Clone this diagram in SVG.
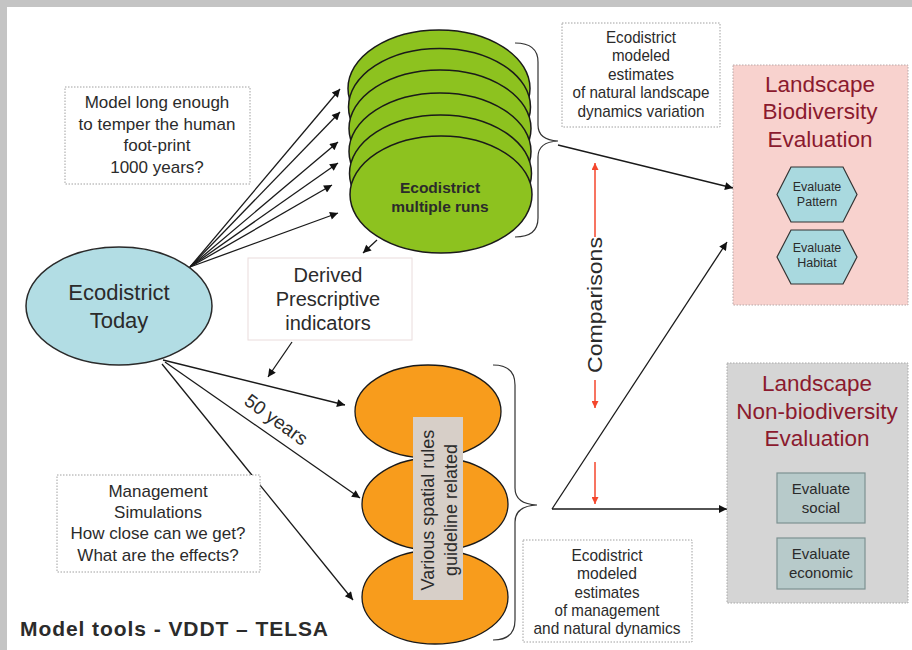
<svg xmlns="http://www.w3.org/2000/svg" width="912" height="650" viewBox="0 0 912 650">
  <style>
    text { font-family: "Liberation Sans", Arial, sans-serif; fill: #2b2b2b; }
    .note { fill: #ffffff; stroke: #a0a0a0; stroke-width: 1; stroke-dasharray: 1.5 1.5; }
    .mid { text-anchor: middle; }
    .title { font-size: 22.5px; fill: #8b1a2e; text-anchor: middle; }
    .green { fill: #8dc21f; stroke: #1a1a1a; stroke-width: 1.5; }
    .orange { fill: #f89c1c; stroke: #1a1a1a; stroke-width: 1.3; }
    .hex { fill: #a9d9df; stroke: #333333; stroke-width: 1.2; }
    .grey-item { fill: #b7caca; stroke: #7d9292; stroke-width: 1.2; }
    .conn { stroke: #1a1a1a; stroke-width: 1.3; fill: none; }
    .red { stroke: #f4462c; stroke-width: 1.5; fill: none; }
    .brace { stroke: #333333; stroke-width: 1.2; fill: none; }
  </style>
  <defs>
    <marker id="ah" viewBox="0 0 10 10" refX="10" refY="5" markerWidth="11" markerHeight="8" markerUnits="userSpaceOnUse" orient="auto">
      <path d="M0,0 L10,5 L0,10 z" fill="#111111"/>
    </marker>
    <marker id="ahr" viewBox="0 0 10 10" refX="10" refY="5" markerWidth="10" markerHeight="7" markerUnits="userSpaceOnUse" orient="auto">
      <path d="M0,0 L10,5 L0,10 z" fill="#f4462c"/>
    </marker>
  </defs>

  <!-- page frame -->
  <rect x="0" y="0" width="912" height="650" fill="#c4c4c4"/>
  <rect x="7" y="7" width="905" height="643" fill="#ffffff"/>

  <!-- connectors -->
  <g id="connectors">
    <!-- fan from Ecodistrict Today to the multiple runs -->
    <line class="conn" x1="190" y1="267" x2="340" y2="89" marker-end="url(#ah)"/>
    <line class="conn" x1="190" y1="267" x2="340" y2="112" marker-end="url(#ah)"/>
    <line class="conn" x1="190" y1="267" x2="338" y2="142" marker-end="url(#ah)"/>
    <line class="conn" x1="190" y1="267" x2="338" y2="163" marker-end="url(#ah)"/>
    <line class="conn" x1="190" y1="267" x2="332" y2="185" marker-end="url(#ah)"/>
    <line class="conn" x1="190" y1="267" x2="338" y2="213" marker-end="url(#ah)"/>
    <!-- runs to derived indicators -->
    <line class="conn" x1="377" y1="240" x2="363" y2="253" marker-end="url(#ah)"/>
    <!-- derived indicators to management runs -->
    <line class="conn" x1="292" y1="342" x2="268" y2="377" marker-end="url(#ah)"/>
    <!-- fan from Ecodistrict Today to the management runs -->
    <line class="conn" x1="163" y1="360" x2="345" y2="405" marker-end="url(#ah)"/>
    <line class="conn" x1="165" y1="362" x2="360" y2="498" marker-end="url(#ah)"/>
    <line class="conn" x1="162" y1="364" x2="353" y2="600" marker-end="url(#ah)"/>
    <!-- braces -->
    <path class="brace" d="M515,43 Q538,43 538,62 L538,125 Q538,140 558,141 Q538,142 538,157 L538,218 Q538,237 515,237"/>
    <path class="brace" d="M493,365 Q515,365 515,385 L515,488 Q515,504 537,505 Q515,506 515,522 L515,620 Q515,640 493,640"/>
    <!-- outputs to the evaluations -->
    <line class="conn" x1="558" y1="145" x2="733" y2="188" marker-end="url(#ah)"/>
    <line class="conn" x1="552" y1="509" x2="727" y2="242" marker-end="url(#ah)"/>
    <line class="conn" x1="552" y1="509" x2="727" y2="509" marker-end="url(#ah)"/>
    <!-- comparisons -->
    <line class="red" x1="595" y1="237" x2="595" y2="163" marker-end="url(#ahr)"/>
    <line class="red" x1="595" y1="380" x2="595" y2="408" marker-end="url(#ahr)"/>
    <line class="red" x1="595" y1="462" x2="595" y2="504" marker-end="url(#ahr)"/>
  </g>

  <!-- Ecodistrict Today -->
  <g id="today">
    <ellipse cx="119" cy="306" rx="93" ry="59" fill="#b2dde4" stroke="#2a2a2a" stroke-width="1.5"/>
    <text class="mid" x="119" y="300" font-size="22">Ecodistrict</text>
    <text class="mid" x="119" y="328" font-size="22">Today</text>
  </g>

  <!-- note: long model horizon -->
  <g id="note-horizon">
    <rect class="note" x="65" y="87" width="185" height="97"/>
    <text class="mid" x="157" y="108" font-size="17">Model long enough</text>
    <text class="mid" x="157" y="130" font-size="17">to temper the human</text>
    <text class="mid" x="157" y="151" font-size="17">foot-print</text>
    <text class="mid" x="157" y="173" font-size="17">1000 years?</text>
  </g>

  <!-- stack of multiple runs -->
  <g id="multiple-runs">
    <ellipse class="green" cx="439" cy="88.5" rx="91" ry="58.5"/>
    <ellipse class="green" cx="439.5" cy="107" rx="91" ry="58.5"/>
    <ellipse class="green" cx="440" cy="128.5" rx="91" ry="58.5"/>
    <ellipse class="green" cx="440" cy="151.5" rx="91" ry="58.5"/>
    <ellipse class="green" cx="440.5" cy="173.5" rx="91" ry="58.5"/>
    <ellipse class="green" cx="441" cy="194.5" rx="91" ry="58.5"/>
    <text class="mid" x="440" y="193" font-size="15.5" font-weight="bold" fill="#1a1a1a">Ecodistrict</text>
    <text class="mid" x="440" y="212" font-size="15.5" font-weight="bold" fill="#1a1a1a">multiple runs</text>
  </g>

  <!-- derived indicators -->
  <g id="derived">
    <rect x="248" y="258" width="164" height="82" fill="#ffffff" stroke="#eadcdc" stroke-width="1"/>
    <text class="mid" x="328" y="282" font-size="20">Derived</text>
    <text class="mid" x="328" y="306" font-size="20">Prescriptive</text>
    <text class="mid" x="328" y="330" font-size="20">indicators</text>
  </g>

  <!-- natural dynamics estimates -->
  <g id="note-natural">
    <rect class="note" x="562" y="23" width="158" height="104"/>
    <text class="mid" x="641" y="43" font-size="17" textLength="70" lengthAdjust="spacingAndGlyphs">Ecodistrict</text>
    <text class="mid" x="641" y="61" font-size="17" textLength="58" lengthAdjust="spacingAndGlyphs">modeled</text>
    <text class="mid" x="641" y="80" font-size="17" textLength="66" lengthAdjust="spacingAndGlyphs">estimates</text>
    <text class="mid" x="641" y="98" font-size="17" textLength="137" lengthAdjust="spacingAndGlyphs">of natural landscape</text>
    <text class="mid" x="641" y="117" font-size="17" textLength="127" lengthAdjust="spacingAndGlyphs">dynamics variation</text>
  </g>

  <!-- biodiversity evaluation -->
  <g id="biodiversity">
    <rect x="733" y="65" width="175" height="240" fill="#f8d2ce" stroke="#b8a8a8" stroke-width="1" stroke-dasharray="1.5 1.5"/>
    <text class="title" x="820" y="92">Landscape</text>
    <text class="title" x="820" y="119">Biodiversity</text>
    <text class="title" x="820" y="147">Evaluation</text>
    <polygon class="hex" points="791,167 843,167 857,194.5 843,222 791,222 777,194.5"/>
    <text class="mid" x="817" y="191" font-size="12.5">Evaluate</text>
    <text class="mid" x="817" y="206" font-size="12.5">Pattern</text>
    <polygon class="hex" points="791,230 843,230 857,257 843,284 791,284 777,257"/>
    <text class="mid" x="817" y="252" font-size="12.5">Evaluate</text>
    <text class="mid" x="817" y="267" font-size="12.5">Habitat</text>
  </g>

  <!-- comparisons label -->
  <g id="comparisons">
    <text class="mid" transform="translate(595,305) rotate(-90)" y="7" font-size="21" textLength="136" lengthAdjust="spacingAndGlyphs">Comparisons</text>
  </g>

  <!-- management runs -->
  <g id="management-runs">
    <ellipse class="orange" cx="428" cy="411.5" rx="73" ry="46.5"/>
    <ellipse class="orange" cx="435" cy="504" rx="73" ry="46.5"/>
    <ellipse class="orange" cx="435" cy="597" rx="73" ry="47"/>
    <rect x="413" y="417" width="50" height="183" fill="#d7cfc8"/>
    <g transform="translate(439,510) rotate(-90)">
      <text class="mid" x="0" y="-5" font-size="18">Various spatial rules</text>
      <text class="mid" x="0" y="18" font-size="18">guideline related</text>
    </g>
  </g>

  <!-- 50 years label -->
  <g id="label-50">
    <text class="mid" transform="translate(276,420) rotate(36)" y="6" font-size="19">50 years</text>
  </g>

  <!-- management note -->
  <g id="note-management">
    <rect class="note" x="57" y="475" width="203" height="97"/>
    <text class="mid" x="158" y="497" font-size="17">Management</text>
    <text class="mid" x="158" y="518" font-size="17">Simulations</text>
    <text class="mid" x="158" y="539" font-size="17">How close can we get?</text>
    <text class="mid" x="158" y="561" font-size="17">What are the effects?</text>
  </g>

  <!-- management estimates -->
  <g id="note-management-estimates">
    <rect class="note" x="523" y="540" width="169" height="102"/>
    <text class="mid" x="607" y="561" font-size="17" textLength="71" lengthAdjust="spacingAndGlyphs">Ecodistrict</text>
    <text class="mid" x="607" y="579" font-size="17" textLength="60" lengthAdjust="spacingAndGlyphs">modeled</text>
    <text class="mid" x="607" y="598" font-size="17" textLength="65" lengthAdjust="spacingAndGlyphs">estimates</text>
    <text class="mid" x="607" y="616" font-size="17" textLength="105" lengthAdjust="spacingAndGlyphs">of management</text>
    <text class="mid" x="607" y="634" font-size="17" textLength="147" lengthAdjust="spacingAndGlyphs">and natural dynamics</text>
  </g>

  <!-- non-biodiversity evaluation -->
  <g id="non-biodiversity">
    <rect x="727" y="363" width="181" height="240" fill="#d5d5d5" stroke="#a8a8a8" stroke-width="1" stroke-dasharray="1.5 1.5"/>
    <text class="title" x="817" y="391">Landscape</text>
    <text class="title" x="817" y="419">Non-biodiversity</text>
    <text class="title" x="817" y="446">Evaluation</text>
    <rect class="grey-item" x="777" y="473" width="88" height="50"/>
    <text class="mid" x="821" y="494" font-size="15" fill="#9aa6a6">Evaluate</text>
    <text class="mid" x="821" y="513" font-size="15" fill="#9aa6a6">social</text>
    <rect class="grey-item" x="777" y="538" width="88" height="51"/>
    <text class="mid" x="821" y="559" font-size="15" fill="#9aa6a6">Evaluate</text>
    <text class="mid" x="821" y="578" font-size="15" fill="#9aa6a6">economic</text>
  </g>

  <!-- footer -->
  <text x="20" y="636" font-size="21" font-weight="bold" fill="#111111" textLength="308" lengthAdjust="spacing">Model tools - VDDT – TELSA</text>
</svg>
